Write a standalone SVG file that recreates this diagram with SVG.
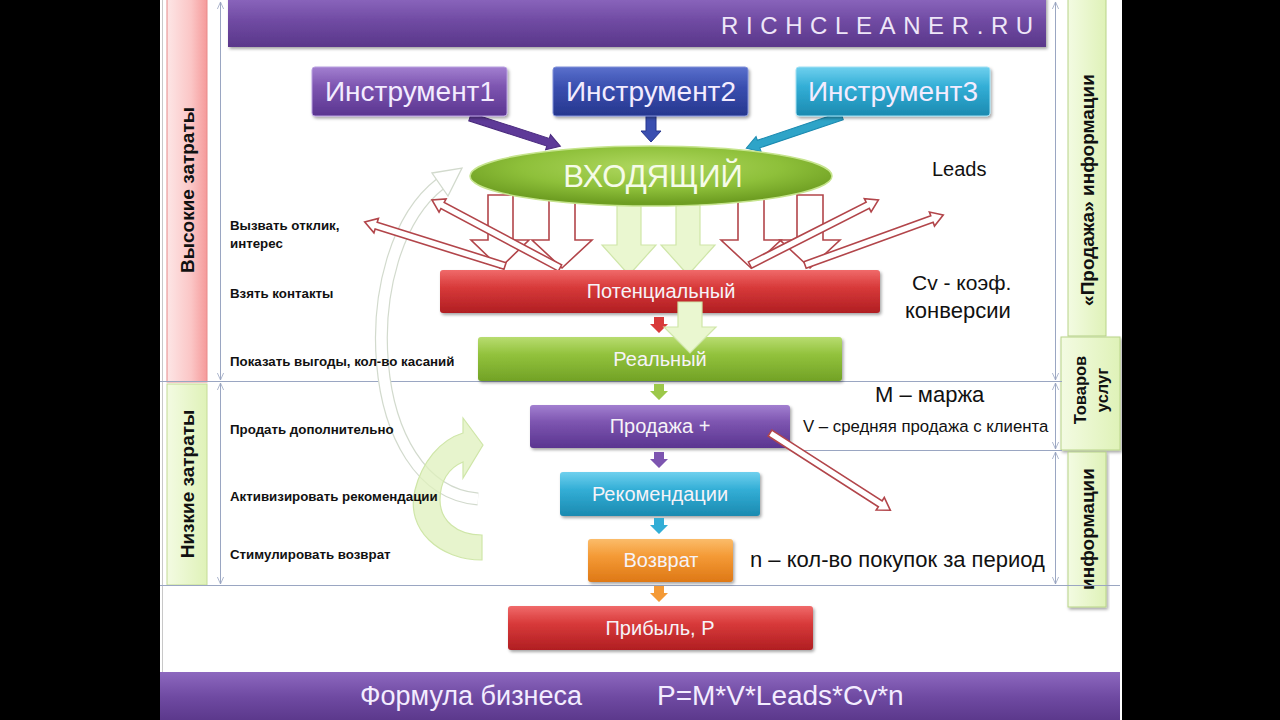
<svg xmlns="http://www.w3.org/2000/svg" width="1280" height="720" viewBox="0 0 1280 720">
<style>
.t{font-family:"Liberation Sans",Arial,sans-serif}
.lbl{font-family:"Liberation Sans",Arial,sans-serif;font-size:13.3px;font-weight:bold;fill:#111}
.box{font-family:"Liberation Sans",Arial,sans-serif;font-size:20px;fill:#f6f3f8;text-anchor:middle}
.ins{font-family:"Liberation Sans",Arial,sans-serif;font-size:28px;fill:#f3ecff;text-anchor:middle}
.rt{font-family:"Liberation Sans",Arial,sans-serif;fill:#111}
.vt{font-family:"Liberation Sans",Arial,sans-serif;font-weight:bold;fill:#111;text-anchor:middle}
.dim{stroke:#9aa6c2;stroke-width:1;fill:none}
.hol{fill:#fff;stroke:#b2454a;stroke-width:1.6}
.grn{fill:#eaf7d0;stroke:#cfe6a8;stroke-width:1.2}
</style>
<defs>
<linearGradient id="gPurple" x1="0" y1="0" x2="0" y2="1"><stop offset="0" stop-color="#a27fd0"/><stop offset="0.4" stop-color="#7d55b0"/><stop offset="1" stop-color="#5a3590"/></linearGradient>
<linearGradient id="gBanner" x1="0" y1="0" x2="0" y2="1"><stop offset="0" stop-color="#8d68bf"/><stop offset="0.5" stop-color="#6f4aa2"/><stop offset="1" stop-color="#5a378a"/></linearGradient>
<linearGradient id="gBlue" x1="0" y1="0" x2="0" y2="1"><stop offset="0" stop-color="#5a70cc"/><stop offset="0.4" stop-color="#3a4fb0"/><stop offset="1" stop-color="#26378e"/></linearGradient>
<linearGradient id="gTeal" x1="0" y1="0" x2="0" y2="1"><stop offset="0" stop-color="#6fd0ee"/><stop offset="0.4" stop-color="#33aed6"/><stop offset="1" stop-color="#1b8ab0"/></linearGradient>
<linearGradient id="gGreen" x1="0" y1="0" x2="0" y2="1"><stop offset="0" stop-color="#b8dc70"/><stop offset="0.4" stop-color="#92c23c"/><stop offset="1" stop-color="#72a226"/></linearGradient>
<linearGradient id="gRed" x1="0" y1="0" x2="0" y2="1"><stop offset="0" stop-color="#f06a6a"/><stop offset="0.4" stop-color="#d83a3a"/><stop offset="1" stop-color="#b01e22"/></linearGradient>
<linearGradient id="gOrange" x1="0" y1="0" x2="0" y2="1"><stop offset="0" stop-color="#fbbc6a"/><stop offset="0.4" stop-color="#f49a36"/><stop offset="1" stop-color="#de7816"/></linearGradient>
<linearGradient id="gPink" x1="0" y1="0" x2="1" y2="0"><stop offset="0" stop-color="#fde6e6"/><stop offset="0.6" stop-color="#fbc6c6"/><stop offset="1" stop-color="#f59a9a"/></linearGradient>
<linearGradient id="gLight" x1="0" y1="0" x2="1" y2="0"><stop offset="0" stop-color="#f3fbe2"/><stop offset="1" stop-color="#dff2b8"/></linearGradient>
<linearGradient id="gArr" x1="0" y1="0" x2="0" y2="1"><stop offset="0" stop-color="#f4fbe6"/><stop offset="1" stop-color="#c9e89a"/></linearGradient>
<radialGradient id="gEll" cx="0.5" cy="0.35" r="0.6"><stop offset="0" stop-color="#b0d860"/><stop offset="0.6" stop-color="#8ec03a"/><stop offset="1" stop-color="#6e9e22"/></radialGradient>
<filter id="sh" x="-10%" y="-20%" width="120%" height="150%"><feDropShadow dx="1.5" dy="2" stdDeviation="1.5" flood-color="#000" flood-opacity="0.35"/></filter>
<path id="sm" d="M-5,0 H5 V7 H9 L0,16 L-9,7 H-5 Z"/>
<marker id="da" viewBox="0 0 10 10" refX="9" refY="5" markerWidth="8" markerHeight="8" orient="auto-start-reverse"><path d="M0,1 L9,5 L0,9" fill="none" stroke="#9aa6c2" stroke-width="1"/></marker>
</defs>

<rect x="0" y="0" width="1280" height="720" fill="#000"/>
<rect x="160" y="0" width="962" height="720" fill="#fff"/>
<line x1="162.5" y1="0" x2="162.5" y2="672" stroke="#c8c8c8" stroke-width="1"/>

<!-- side panels -->
<g id="panel-high">
<rect x="167" y="-2" width="40" height="384" fill="url(#gPink)" stroke="#e88a8a" stroke-width="1"/>
<text class="vt" style="font-size:19px" transform="translate(194,190) rotate(-90)">Высокие затраты</text>
</g>
<g id="panel-low">
<rect x="167" y="384" width="40" height="201" fill="url(#gLight)" stroke="#c4dc96" stroke-width="1"/>
<text class="vt" style="font-size:19px" transform="translate(194,484) rotate(-90)">Низкие затраты</text>
</g>
<g id="panel-info-top">
<rect x="1068" y="-2" width="38" height="338" fill="url(#gLight)" stroke="#b8d488" stroke-width="1"/>
<text class="vt" style="font-size:19px" transform="translate(1094,190) rotate(-90)">«Продажа» информации</text>
</g>
<g id="panel-goods">
<rect x="1061" y="337" width="59" height="113" fill="url(#gLight)" stroke="#b8d488" stroke-width="1" filter="url(#sh)"/>
<text class="vt" style="font-size:16.5px" transform="translate(1086,390) rotate(-90)">Товаров</text>
<text class="vt" style="font-size:16.5px" transform="translate(1108,390) rotate(-90)">услуг</text>
</g>
<g id="panel-info-bottom">
<rect x="1068" y="452" width="38" height="155" fill="url(#gLight)" stroke="#b8d488" stroke-width="1" filter="url(#sh)"/>
<text class="vt" style="font-size:19px" transform="translate(1094,529) rotate(-90)">информации</text>
</g>

<!-- dimension lines -->
<g id="dims">
<line class="dim" x1="160" y1="381.5" x2="1062" y2="381.5"/>
<line class="dim" x1="792" y1="450.5" x2="1062" y2="450.5"/>
<line class="dim" x1="160" y1="585.5" x2="1120" y2="585.5"/>
<line class="dim" x1="220.5" y1="2" x2="220.5" y2="380" marker-start="url(#da)" marker-end="url(#da)"/>
<line class="dim" x1="220.5" y1="383" x2="220.5" y2="584" marker-start="url(#da)" marker-end="url(#da)"/>
<line class="dim" x1="1055.5" y1="2" x2="1055.5" y2="380" marker-start="url(#da)" marker-end="url(#da)"/>
<line class="dim" x1="1055.5" y1="383" x2="1055.5" y2="449" marker-start="url(#da)" marker-end="url(#da)"/>
<line class="dim" x1="1055.5" y1="452" x2="1055.5" y2="584" marker-start="url(#da)" marker-end="url(#da)"/>
</g>

<!-- banners -->
<g id="banner-top">
<rect x="228" y="-4" width="818" height="51" fill="url(#gBanner)" filter="url(#sh)"/>
<text class="t" x="721" y="34" font-size="24" letter-spacing="7.6" fill="#eee6f8">RICHCLEANER.RU</text>
</g>
<g id="banner-bottom">
<rect x="160" y="672" width="960" height="50" fill="url(#gBanner)"/>
<text class="t" x="360" y="705" font-size="27" fill="#f3ecff">Формула бизнеса</text>
<text class="t" x="657" y="705" font-size="28" fill="#f3ecff">P=M*V*Leads*Cv*n</text>
</g>

<!-- background curved arrows and connectors -->
<g id="connectors">
<path d="M478,499 C 362,490 352,252 440,184" fill="none" stroke="#d2dacd" stroke-width="13"/>
<path d="M478,499 C 362,490 352,252 440,184" fill="none" stroke="#fff" stroke-width="10.6"/>
<polygon points="432,173 462,168 448,196" fill="#fff" stroke="#d2dacd" stroke-width="1.3"/>
<path d="M482,560 C 440,560 405,530 415,490 C 422,462 440,440 463,433 L463,418 L483,445 L463,478 L463,462 C 448,468 440,482 440,500 C 440,520 456,535 482,535 Z" fill="#dff0bc" fill-opacity="0.75" stroke="#cfe6a8" stroke-width="1.2"/>

<!-- instrument arrows -->
<g transform="translate(470,117) rotate(17.9)"><polygon points="0,-4 82,-4 82,-8 95,0 82,8 82,4 0,4" fill="#5e3a98" stroke="#4a2a7e" stroke-width="1"/></g>
<polygon points="646,116 656,116 656,131 661,131 651,142 641,131 646,131" fill="#3a4fb0" stroke="#26378e" stroke-width="1"/>
<g transform="translate(842,116) rotate(161.4)"><polygon points="0,-4 88,-4 88,-8 101,0 88,8 88,4 0,4" fill="#2ea4c8" stroke="#1b8ab0" stroke-width="1"/></g>

<!-- hollow red down arrows -->
<polygon class="hol" points="488,195 513,195 513,240 529,240 500,268 471,240 488,240"/>
<polygon class="hol" points="549,195 575,195 575,240 592,240 562,268 532,240 549,240"/>
<polygon class="hol" points="738,195 764,195 764,240 781,240 751,268 721,240 738,240"/>
<polygon class="hol" points="797,195 823,195 823,240 840,240 810,268 780,240 797,240"/>

<!-- green down arrows -->
<polygon class="grn" points="617,203 641,203 641,245 656,245 629,275 602,245 617,245" fill="url(#gArr)"/>
<polygon class="grn" points="676,203 700,203 700,245 715,245 688,275 661,245 676,245" fill="url(#gArr)"/>

<!-- diagonal hollow arrows -->
<g transform="translate(505,266) rotate(197.4)"><polygon class="hol" points="0,-3.5 135,-3.5 135,-7.5 147,0 135,7.5 135,3.5 0,3.5"/></g>
<g transform="translate(560,268) rotate(208)"><polygon class="hol" points="0,-3.5 133,-3.5 133,-7.5 145,0 133,7.5 133,3.5 0,3.5"/></g>
<g transform="translate(750,265) rotate(-26.9)"><polygon class="hol" points="0,-3.5 132,-3.5 132,-7.5 144,0 132,7.5 132,3.5 0,3.5"/></g>
<g transform="translate(805,265) rotate(-19.9)"><polygon class="hol" points="0,-3.5 135,-3.5 135,-7.5 147,0 135,7.5 135,3.5 0,3.5"/></g>
</g>

<!-- instruments -->
<g id="instr1"><rect x="312" y="67" width="195" height="49" rx="3" fill="url(#gPurple)" stroke="#b9a0e0" stroke-width="1" filter="url(#sh)"/><text class="ins" x="410" y="101">Инструмент1</text></g>
<g id="instr2"><rect x="553" y="67" width="195" height="49" rx="3" fill="url(#gBlue)" stroke="#8090d8" stroke-width="1" filter="url(#sh)"/><text class="ins" x="651" y="101">Инструмент2</text></g>
<g id="instr3"><rect x="796" y="67" width="194" height="49" rx="3" fill="url(#gTeal)" stroke="#9fe0f4" stroke-width="1" filter="url(#sh)"/><text class="ins" x="893" y="101">Инструмент3</text></g>

<!-- ellipse -->
<g id="incoming">
<ellipse cx="651" cy="176" rx="181" ry="30" fill="url(#gEll)" stroke="#c6e48e" stroke-width="1.5"/>
<text class="t" x="653" y="187" font-size="31" fill="#f5fbe8" text-anchor="middle">ВХОДЯЩИЙ</text>
</g>

<!-- funnel boxes -->
<g id="potential"><rect x="440" y="270" width="440" height="43" rx="3" fill="url(#gRed)" filter="url(#sh)"/><text class="box" x="661" y="298">Потенциальный</text></g>
<g id="real"><rect x="478" y="337" width="364" height="44" rx="3" fill="url(#gGreen)" filter="url(#sh)"/><text class="box" x="660" y="366">Реальный</text></g>
<g id="sale"><rect x="530" y="405" width="260" height="43" rx="3" fill="url(#gPurple)" filter="url(#sh)"/><text class="box" x="660" y="433">Продажа +</text></g>
<g id="recommend"><rect x="560" y="472" width="200" height="44" rx="3" fill="url(#gTeal)" filter="url(#sh)"/><text class="box" x="660" y="501">Рекомендации</text></g>
<g id="return"><rect x="588" y="539" width="145" height="43" rx="3" fill="url(#gOrange)" filter="url(#sh)"/><text class="box" x="661" y="567">Возврат</text></g>
<g id="profit"><rect x="508" y="606" width="305" height="44" rx="3" fill="url(#gRed)" filter="url(#sh)"/><text class="box" x="660" y="635">Прибыль, Р</text></g>

<!-- small flow arrows and overlay arrows -->
<g id="flow">
<use href="#sm" x="659" y="317" fill="#d83a3a"/>
<use href="#sm" x="659" y="384" fill="#9cc84a"/>
<use href="#sm" x="659" y="452" fill="#7d55b0"/>
<use href="#sm" x="659" y="518" fill="#33aed6"/>
<use href="#sm" x="659" y="586" fill="#f49a36"/>
<polygon class="grn" points="678,302 702,302 702,327 716,327 690,353 664,327 678,327" fill="url(#gArr)"/>
<g transform="translate(770,433) rotate(32.7)"><polygon class="hol" points="0,-3.5 131,-3.5 131,-7.5 143,0 131,7.5 131,3.5 0,3.5"/></g>
</g>

<!-- left labels -->
<g id="left-labels">
<text class="lbl" x="230" y="230">Вызвать отклик,</text>
<text class="lbl" x="230" y="248">интерес</text>
<text class="lbl" x="230" y="298">Взять контакты</text>
<text class="lbl" x="230" y="366">Показать выгоды, кол-во касаний</text>
<text class="lbl" x="230" y="434">Продать дополнительно</text>
<text class="lbl" x="230" y="501">Активизировать рекомендации</text>
<text class="lbl" x="230" y="559">Стимулировать возврат</text>
</g>

<!-- right labels -->
<g id="right-labels">
<text class="rt" style="font-size:20px" x="932" y="176">Leads</text>
<text class="rt" style="font-size:21px" x="912" y="290">Cv - коэф.</text>
<text class="rt" style="font-size:22px" x="905" y="318">конверсии</text>
<text class="rt" style="font-size:22px" x="875" y="402">M – маржа</text>
<text class="rt" style="font-size:16.8px" x="803" y="432">V – средняя продажа с клиента</text>
<text class="rt" style="font-size:22px" x="750" y="567">n – кол-во покупок за период</text>
</g>
</svg>
